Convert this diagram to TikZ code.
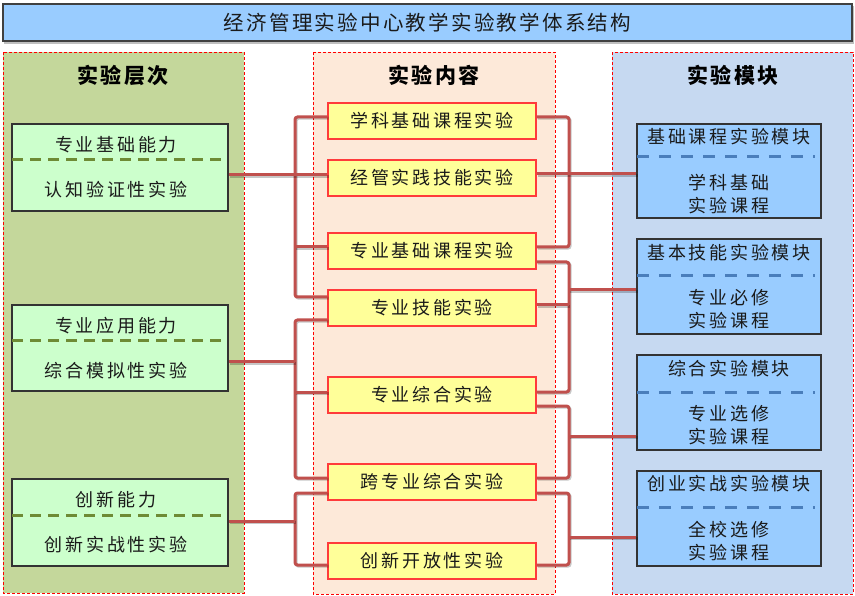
\documentclass[tikz,border=0pt]{standalone}
\usepackage{fontspec}
\setmainfont{Noto Sans CJK SC}
\newfontfamily\boxfont{Noto Sans CJK SC}[LetterSpace=15]
\newfontfamily\headfont{Noto Sans CJK SC}[LetterSpace=12]
\newfontfamily\titlefont{Noto Sans CJK SC}[LetterSpace=11]
\definecolor{titlefill}{HTML}{99CCFF}
\definecolor{leftpanel}{HTML}{C4D79B}
\definecolor{midpanel}{HTML}{FDE9D9}
\definecolor{rightpanel}{HTML}{C6D9F1}
\definecolor{leftbox}{HTML}{CCFFCC}
\definecolor{leftdash}{HTML}{6E8B35}
\definecolor{rightbox}{HTML}{99CCFF}
\definecolor{rightdash}{HTML}{4A7EBB}
\definecolor{midbox}{HTML}{FFFF99}
\definecolor{midborder}{HTML}{FF3B3B}
\definecolor{cline}{HTML}{C0504D}
\definecolor{txt}{HTML}{1A1A1A}
\tikzset{
  panel/.style={draw=red, line width=0.8pt, dash pattern=on 3pt off 2pt},
  lbox/.style={draw=black!80, line width=1.3pt, fill=leftbox, minimum width=216pt, inner sep=0pt},
  rbox/.style={draw=black!80, line width=1.3pt, fill=rightbox, minimum width=184pt, inner sep=0pt},
  mbox/.style={draw=midborder, line width=1.2pt, fill=midbox, minimum width=208pt, minimum height=36pt, inner sep=0pt, font=\boxfont\fontsize{18}{20}\selectfont, text=txt},
  btxt/.style={font=\boxfont\fontsize{18}{20}\selectfont, text=txt, inner sep=0pt},
  btxt2/.style={font=\boxfont\fontsize{18}{23}\selectfont, text=txt, inner sep=0pt, align=center},
  head/.style={font=\headfont\bfseries\fontsize{21}{24}\selectfont, text=black, inner sep=0pt},
  ldiv/.style={draw=leftdash, line width=3pt, dash pattern=on 11pt off 7pt},
  rdiv/.style={draw=rightdash, line width=3pt, dash pattern=on 12pt off 10pt},
  conn/.style={draw=cline, line width=3pt, rounded corners=2.5pt,
    preaction={draw=black, opacity=0.22, line width=3pt, transform canvas={shift={(1.2pt,-1.2pt)}}}}
}
\begin{document}
\begin{tikzpicture}[x=1pt,y=-1pt]
\useasboundingbox (0,0) rectangle (855,596);
% title
\fill[black!25] (4,6) rectangle (854,44);
\node[draw=black!75, line width=1.2pt, fill=titlefill, minimum width=849pt, minimum height=37pt, inner sep=0pt,
  font=\titlefont\fontsize{20.5}{22}\selectfont, text=txt] (title) at (427.5,22.5) {经济管理实验中心教学实验教学体系结构};
% panels
\path[panel, fill=leftpanel] (3,52) rectangle (244,593);
\path[panel, fill=midpanel] (313,52) rectangle (555,594);
\path[panel, fill=rightpanel] (612,52) rectangle (853,594);
\node[head] (h1) at (123,75) {实验层次};
\node[head] (h2) at (434,75) {实验内容};
\node[head] (h3) at (733,75) {实验模块};
% left boxes
\node[lbox, minimum height=87pt] (L1) at (120,167.5) {};
\draw[ldiv] (12,160) -- (228,160);
\node[btxt] (L1a) at (116,145) {专业基础能力};
\node[btxt] (L1b) at (116,190) {认知验证性实验};
\node[lbox, minimum height=86pt] (L2) at (120,348) {};
\draw[ldiv] (12,341) -- (228,341);
\node[btxt] (L2a) at (116,326) {专业应用能力};
\node[btxt] (L2b) at (116,371) {综合模拟性实验};
\node[lbox, minimum height=87pt] (L3) at (120,522.5) {};
\draw[ldiv] (12,515) -- (228,515);
\node[btxt] (L3a) at (116,500) {创新能力};
\node[btxt] (L3b) at (116,545) {创新实战性实验};
% right boxes
\node[rbox, minimum height=94pt] (R1) at (729,171) {};
\draw[rdiv] (637,157) -- (815,157);
\node[btxt] (R1a) at (729,137) {基础课程实验模块};
\node[btxt2] (R1b) at (729,194) {学科基础\\实验课程};
\node[rbox, minimum height=95pt] (R2) at (729,286.5) {};
\draw[rdiv] (637,276) -- (815,276);
\node[btxt] (R2a) at (729,253) {基本技能实验模块};
\node[btxt2] (R2b) at (729,309) {专业必修\\实验课程};
\node[rbox, minimum height=95pt] (R3) at (729,402.5) {};
\draw[rdiv] (637,392) -- (815,392);
\node[btxt] (R3a) at (729,369) {综合实验模块};
\node[btxt2] (R3b) at (729,425.5) {专业选修\\实验课程};
\node[rbox, minimum height=95pt] (R4) at (729,518.5) {};
\draw[rdiv] (637,507) -- (815,507);
\node[btxt] (R4a) at (729,484) {创业实战实验模块};
\node[btxt2] (R4b) at (729,541) {全校选修\\实验课程};
% connector helper coordinates
\coordinate (LX1) at (295,200);
\coordinate (LX2) at (295,400);
\coordinate (LX3) at (295,530);
\coordinate (RX1) at (569,180);
\coordinate (RX2) at (569,330);
\coordinate (RX3) at (569,440);
\coordinate (RX4) at (569,530);
\coordinate (J1) at (295,175);
\coordinate (J2) at (295,362);
\coordinate (J3) at (295,521);
\coordinate (K1) at (569,174);
\coordinate (K2) at (569,290);
\coordinate (K3) at (569,436);
\coordinate (K4) at (569,537);
% middle boxes
\node[mbox] (m1) at (432,121) {学科基础课程实验};
\node[mbox] (m2) at (432,178) {经管实践技能实验};
\node[mbox] (m3) at (432,251) {专业基础课程实验};
\node[mbox] (m4) at (432,308) {专业技能实验};
\node[mbox] (m5) at (432,395) {专业综合实验};
\node[mbox] (m6) at (432,482) {跨专业综合实验};
\node[mbox] (m7) at (432,561) {创新开放性实验};
% left side connectors
\draw[conn] ([yshift=4pt]m1.west) -| (LX1) |- ([yshift=11pt]m4.west);
\draw[conn] ([yshift=4pt]m3.west) -- ([yshift=4pt]m3.west -| LX1);
\draw[conn] (J1 -| L1.east) -- (J1 -| m2.west);
\draw[conn] ([yshift=-12pt]m4.west) -| (LX2) |- ([yshift=4pt]m6.west);
\draw[conn] ([yshift=3pt]m5.west) -- ([yshift=3pt]m5.west -| LX2);
\draw[conn] (J2 -| L2.east) -- (J2);
\draw[conn] ([yshift=-11pt]m6.west) -| (LX3) |- ([yshift=-4pt]m7.west);
\draw[conn] (J3 -| L3.east) -- (J3);
% right side connectors
\draw[conn] ([yshift=4pt]m1.east) -| (RX1) |- ([yshift=4pt]m3.east);
\draw[conn] (K1 -| m2.east) -- (K1 -| R1.west);
\draw[conn] ([yshift=-11pt]m3.east) -| (RX2) |- ([yshift=3pt]m5.east);
\draw[conn] ([yshift=3pt]m4.east) -- ([yshift=3pt]m4.east -| RX2);
\draw[conn] (K2) -- (K2 -| R2.west);
\draw[conn] ([yshift=-11pt]m5.east) -| (RX3) |- ([yshift=4pt]m6.east);
\draw[conn] (K3) -- (K3 -| R3.west);
\draw[conn] ([yshift=-11pt]m6.east) -| (RX4) |- ([yshift=-4pt]m7.east);
\draw[conn] (K4) -- (K4 -| R4.west);
\end{tikzpicture}
\end{document}
